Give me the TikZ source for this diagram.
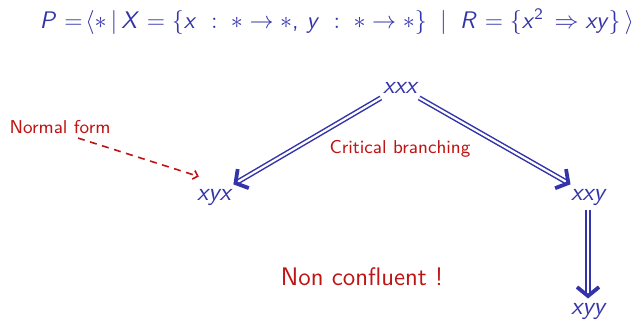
\documentclass[tikz,border=0pt]{standalone}
\usetikzlibrary{arrows.meta,decorations.markings}
\definecolor{sblue}{RGB}{52,52,170}
\definecolor{sred}{RGB}{190,20,20}
\newcommand\iv[1]{\textit{#1}}
\begin{document}
\begin{tikzpicture}[x=0.5pt,y=-0.5pt,
  every node/.style={font=\sffamily, inner sep=2pt},
  term/.style={text=sblue, font=\sffamily\itshape\fontsize{12.5}{14}\selectfont},
  note/.style={text=sred},
  rew/.style={draw=sblue, line width=0.75pt, double, double distance=1.1pt, shorten >=2pt,
    postaction={decorate, decoration={markings, mark=at position 1 with
      {\arrow[sblue, line width=1.9pt]{Straight Barb[length=4.5pt,width=11pt]}}}}},
  nfarrow/.style={draw=sred, line width=0.8pt, dash pattern=on 3.5pt off 2.8pt,
    -{Straight Barb[length=2.2pt,width=4.5pt]}}
]
\useasboundingbox (0,0) rectangle (640,322);
\node[text=sblue, font=\sffamily\fontsize{12}{14}\selectfont] (P) at (337,22)
  {\iv{P} $=\!\langle\ast\,|\,$\iv{X} $=\{$\iv{x} $\;:\;\ast\to\ast$, \iv{y} $\;:\;\ast\to\ast\}\;\;|\;\;$\iv{R} $=\{$\iv{x}$^{\mathsf{2}}\,\Rightarrow\;$\iv{xy}$\}\,\rangle$};
\node[term] (xxx) at (400,88) {xxx};
\node[term] (xyx) at (214,197) {xyx};
\node[term] (xxy) at (588,197) {xxy};
\node[term] (xyy) at (588,311) {xyy};
\node[note, font=\sffamily\fontsize{9.3}{11}\selectfont] (nf) at (60,127) {Normal form};
\node[note, font=\sffamily\fontsize{9.3}{11}\selectfont] (cb) at (400,149) {Critical branching};
\node[note, font=\sffamily\fontsize{12.7}{15}\selectfont] (nc) at (362,277) {Non confluent !};
\draw[rew] ([xshift=1pt]xxx.south west) -- ([xshift=-1pt]xyx.north east);
\draw[rew] ([xshift=-1pt]xxx.south east) -- ([xshift=2pt]xxy.north west);
\draw[rew] (xxy.south) -- (xyy.north);
\draw[nfarrow] ([xshift=9pt]nf.south) -- ([shift={(6,-8)}]xyx.north west);
\end{tikzpicture}
\end{document}
